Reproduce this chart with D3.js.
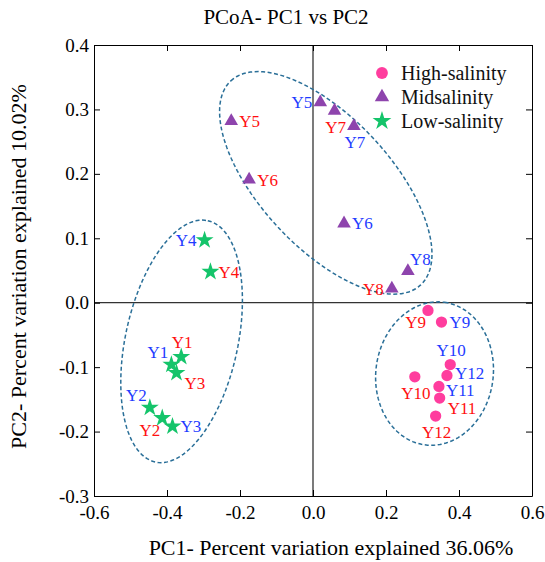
<!DOCTYPE html>
<meta charset="utf-8">
<script src="https://cdn.jsdelivr.net/npm/d3@7"></script>
<style type="text/css">
    body { margin: 0; background: #fff; }
    text { font-family: "Liberation Serif", "Times New Roman", serif; }
</style>
<body>
<script type="text/javascript">
    // ---- data ----
    var groups = ["High-salinity", "Midsalinity", "Low-salinity"];

    var highNames = ["Y9", "Y9", "Y10", "Y12", "Y10", "Y11", "Y11", "Y12"];
    var highSet   = ["red", "blue", "blue", "blue", "red", "blue", "red", "red"];
    var highPC1   = [0.315, 0.352, 0.376, 0.367, 0.279, 0.345, 0.347, 0.336];
    var highPC2   = [-0.012, -0.030, -0.096, -0.113, -0.115, -0.130, -0.148, -0.176];
    var highSide  = ["SW", "E", "N", "ENE", "S", "ESE", "SE", "S"];

    var midNames = ["Y5", "Y6", "Y5", "Y7", "Y7", "Y6", "Y8", "Y8"];
    var midSet   = ["red", "red", "blue", "red", "blue", "blue", "blue", "red"];
    var midPC1   = [-0.224, -0.175, 0.020, 0.059, 0.112, 0.085, 0.260, 0.216];
    var midPC2   = [0.282, 0.191, 0.311, 0.298, 0.274, 0.123, 0.049, 0.022];
    var midSide  = ["E", "E", "W", "S", "S", "E", "NE", "W"];

    var lowNames = ["Y1", "Y1", "Y3", "Y2", "Y2", "Y3", "Y4", "Y4"];
    var lowSet   = ["red", "blue", "red", "blue", "red", "blue", "blue", "red"];
    var lowPC1   = [-0.361, -0.388, -0.374, -0.447, -0.413, -0.385, -0.297, -0.281];
    var lowPC2   = [-0.084, -0.096, -0.109, -0.163, -0.179, -0.192, 0.097, 0.048];
    var lowSide  = ["N", "NW", "SE", "NW", "SW", "E", "W", "E"];

    // ellipses in data units: centre, half-axis U, half-axis V
    var ellCX = [0.333, 0.035, -0.360];
    var ellCY = [-0.110, 0.186, -0.060];
    var ellUX = [0.0274, -0.260, 0.0718];
    var ellUY = [0.1106, 0.1584, 0.1873];
    var ellVX = [0.1592, 0.1307, 0.1504];
    var ellVY = [-0.0127, 0.0689, -0.0185];

    var xTicks = [-0.6, -0.4, -0.2, 0.0, 0.2, 0.4, 0.6];
    var xTickLabels = ["-0.6", "-0.4", "-0.2", "0.0", "0.2", "0.4", "0.6"];
    var yTicks = [-0.3, -0.2, -0.1, 0.0, 0.1, 0.2, 0.3, 0.4];
    var yTickLabels = ["-0.3", "-0.2", "-0.1", "0.0", "0.1", "0.2", "0.3", "0.4"];

    // ---- layout ----
    var W = 545, H = 562;
    var margin = { top: 45, right: 13, bottom: 66, left: 94 },
        width = W - margin.left - margin.right,
        height = H - margin.top - margin.bottom;

    var svg = d3.select("body").append("svg")
        .attr("width", W)
        .attr("height", H)
        .append("g")
        .attr("transform", "translate(" + margin.left + "," + margin.top + ")");

    var x = d3.scaleLinear().domain([-0.6, 0.6]).range([0, width]);
    var y = d3.scaleLinear().domain([-0.3, 0.4]).range([height, 0]);

    var markColor = ["#ff3d9e", "#8e44ad", "#14c46a"];
    var labelColor = { red: "#ff1010", blue: "#1f3cff" };
    var shapes = [d3.symbolCircle, d3.symbolTriangle, d3.symbolStar];
    var shapeSize = [100, 80, 100];

    // zero lines
    svg.append("line")
        .attr("x1", x(0)).attr("x2", x(0))
        .attr("y1", 0).attr("y2", height)
        .attr("stroke", "#333").attr("stroke-width", 1.3);
    svg.append("line")
        .attr("x1", 0).attr("x2", width)
        .attr("y1", y(0)).attr("y2", y(0))
        .attr("stroke", "#333").attr("stroke-width", 1.3);

    // axes, ticks inward on all four sides
    function styleAxis(g) {
        g.selectAll("path, line").attr("stroke", "#000").attr("stroke-width", 1);
        g.selectAll("text").attr("fill", "#000").style("font-size", "19px")
            .style("font-family", "'Liberation Serif', serif");
    }
    svg.append("g")
        .attr("transform", "translate(0," + height + ")")
        .call(d3.axisBottom(x).tickValues(xTicks).tickSizeInner(-6).tickSizeOuter(0).tickPadding(10)
            .tickFormat(function (d, i) { return xTickLabels[i]; }))
        .call(styleAxis);
    svg.append("g")
        .call(d3.axisTop(x).tickValues(xTicks).tickSizeInner(-6).tickSizeOuter(0).tickFormat(""))
        .call(styleAxis);
    svg.append("g")
        .call(d3.axisLeft(y).tickValues(yTicks).tickSizeInner(-6).tickSizeOuter(0).tickPadding(5)
            .tickFormat(function (d, i) { return yTickLabels[i]; }))
        .call(styleAxis);
    svg.append("g")
        .attr("transform", "translate(" + width + ",0)")
        .call(d3.axisRight(y).tickValues(yTicks).tickSizeInner(-6).tickSizeOuter(0).tickFormat(""))
        .call(styleAxis);

    // dashed ellipses
    var tSteps = d3.range(0, 121).map(function (k) { return k / 120 * 2 * Math.PI; });
    var ellLine = d3.line()
        .x(function (p) { return x(p[0]); })
        .y(function (p) { return y(p[1]); })
        .curve(d3.curveLinearClosed);
    ellCX.forEach(function (cx, i) {
        var pts = tSteps.map(function (t) {
            return [cx + Math.cos(t) * ellUX[i] + Math.sin(t) * ellVX[i],
                    ellCY[i] + Math.cos(t) * ellUY[i] + Math.sin(t) * ellVY[i]];
        });
        svg.append("path")
            .attr("d", ellLine(pts))
            .attr("fill", "none")
            .attr("stroke", "#2a6f98")
            .attr("stroke-width", 1.5)
            .attr("stroke-dasharray", "4,2.5");
    });

    // points + labels
    var sides = {
        E:   { a: "start",  dx: 8,  dy: 6 },
        ENE: { a: "start",  dx: 8,  dy: 3 },
        ESE: { a: "start",  dx: 7,  dy: 10 },
        W:   { a: "end",    dx: -8, dy: 6 },
        N:   { a: "middle", dx: 1,  dy: -9 },
        S:   { a: "middle", dx: 1,  dy: 22 },
        NE:  { a: "start",  dx: 2,  dy: -6 },
        NW:  { a: "end",    dx: -3, dy: -7 },
        SE:  { a: "start",  dx: 8,  dy: 16 },
        SW:  { a: "end",    dx: -2, dy: 18 }
    };

    var series = [
        { names: highNames, set: highSet, pc1: highPC1, pc2: highPC2, side: highSide },
        { names: midNames, set: midSet, pc1: midPC1, pc2: midPC2, side: midSide },
        { names: lowNames, set: lowSet, pc1: lowPC1, pc2: lowPC2, side: lowSide }
    ];

    series.forEach(function (s, gi) {
        var rows = s.names.map(function (n, i) {
            return { name: n, set: s.set[i], pc1: s.pc1[i], pc2: s.pc2[i], side: s.side[i] };
        });
        svg.selectAll(".pt" + gi)
            .data(rows)
            .enter().append("path")
            .attr("class", "pt" + gi)
            .attr("transform", function (d) { return "translate(" + x(d.pc1) + "," + y(d.pc2) + ")"; })
            .attr("d", d3.symbol().type(shapes[gi]).size(shapeSize[gi]))
            .attr("fill", markColor[gi]);
        svg.selectAll(".lab" + gi)
            .data(rows)
            .enter().append("text")
            .attr("class", "lab" + gi)
            .attr("x", function (d) { return x(d.pc1) + sides[d.side].dx; })
            .attr("y", function (d) { return y(d.pc2) + sides[d.side].dy; })
            .attr("text-anchor", function (d) { return sides[d.side].a; })
            .attr("fill", function (d) { return labelColor[d.set]; })
            .style("font-size", "17px")
            .text(function (d) { return d.name; });
    });

    // legend
    var legend = svg.selectAll(".legend")
        .data(groups)
        .enter().append("g")
        .attr("class", "legend")
        .attr("transform", function (d, i) { return "translate(" + (x(0.189)) + "," + (28 + i * 24) + ")"; });
    legend.append("path")
        .attr("d", function (d, i) { return d3.symbol().type(shapes[i]).size(shapeSize[i] + 10)(); })
        .attr("fill", function (d, i) { return markColor[i]; });
    legend.append("text")
        .attr("x", 19)
        .attr("y", 7)
        .style("font-size", "20px")
        .attr("fill", "#111")
        .text(String);

    // titles
    svg.append("text")
        .attr("x", 286 - margin.left)
        .attr("y", 24 - margin.top)
        .attr("text-anchor", "middle")
        .style("font-size", "21px")
        .text("PCoA- PC1 vs PC2");

    svg.append("text")
        .attr("x", width / 2 + 18)
        .attr("y", height + 59)
        .attr("text-anchor", "middle")
        .style("font-size", "22px")
        .text("PC1- Percent variation explained 36.06%");

    svg.append("text")
        .attr("transform", "rotate(-90)")
        .attr("x", -height / 2 + 4)
        .attr("y", -68)
        .attr("text-anchor", "middle")
        .style("font-size", "22px")
        .text("PC2- Percent variation explained 10.02%");
</script>
</body>
</html>
